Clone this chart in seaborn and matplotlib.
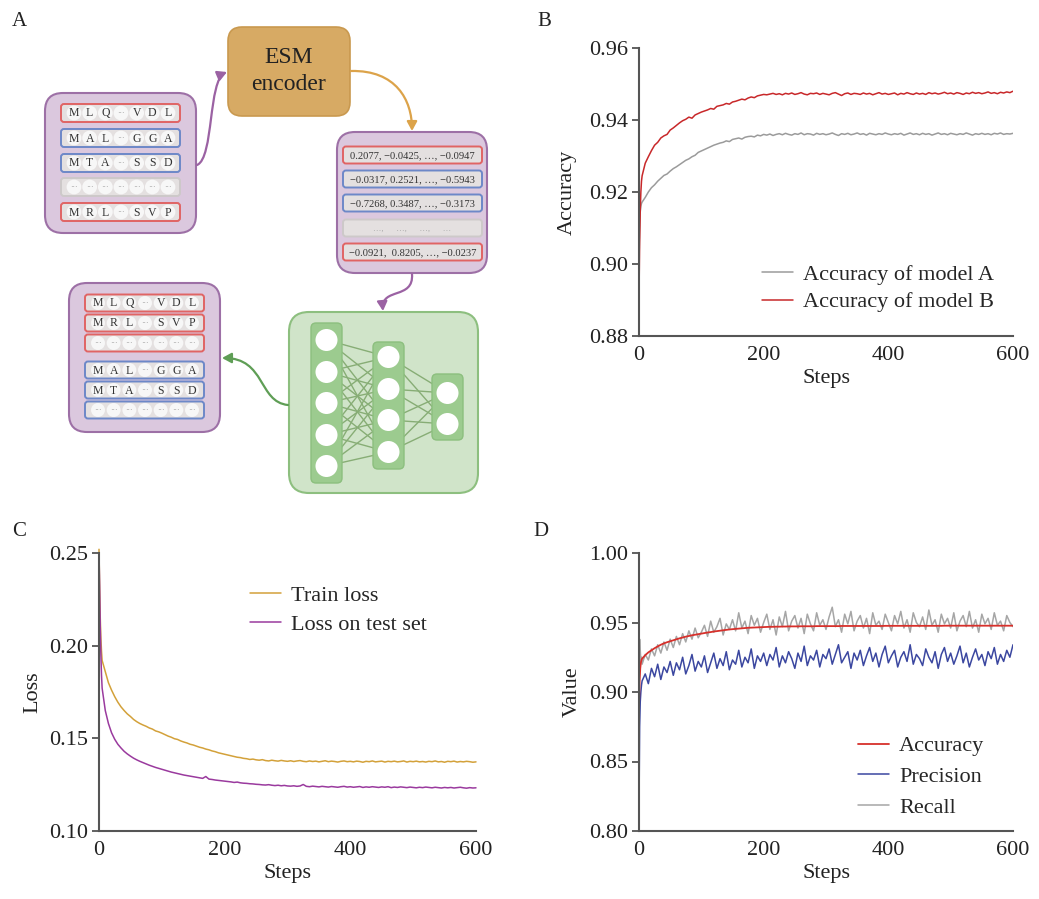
import numpy as np
import pandas as pd
import matplotlib
matplotlib.use("Agg")
import matplotlib.pyplot as plt
import seaborn as sns
from matplotlib.patches import FancyBboxPatch, Circle, FancyArrowPatch
from matplotlib.path import Path
from matplotlib.ticker import FormatStrFormatter

# ---------------- data ----------------
steps = [0, 1, 2, 3, 4] + list(range(5, 601, 5))

acc_model_a = [0.900, 0.910, 0.9145, 0.9160, 0.9168,
 0.9172, 0.9185, 0.9200, 0.9212, 0.9220, 0.9230, 0.9238, 0.9246, 0.9250, 0.9258,
 0.9265, 0.9270, 0.9276, 0.9282, 0.9288, 0.9292, 0.9298, 0.9302, 0.9310, 0.9314,
 0.9318, 0.9322, 0.9326, 0.9330, 0.9333, 0.9336, 0.9338, 0.9342, 0.9340, 0.9346,
 0.9348, 0.9350, 0.9347, 0.9352, 0.9354, 0.9355, 0.9353, 0.9358, 0.9356, 0.9360,
 0.9358, 0.9361, 0.9357, 0.9360, 0.9362, 0.9359, 0.9363, 0.9360, 0.9358, 0.9362,
 0.9360, 0.9364, 0.9359, 0.9362, 0.9361, 0.9358, 0.9363, 0.9360, 0.9362, 0.9359,
 0.9361, 0.9364, 0.9360, 0.9357, 0.9362, 0.9360, 0.9363, 0.9359, 0.9361, 0.9364,
 0.9360, 0.9362, 0.9358, 0.9363, 0.9361, 0.9359, 0.9362, 0.9360, 0.9364, 0.9361,
 0.9359, 0.9362, 0.9360, 0.9363, 0.9358, 0.9361, 0.9364, 0.9360, 0.9362, 0.9359,
 0.9363, 0.9360, 0.9362, 0.9358, 0.9361, 0.9364, 0.9360, 0.9362, 0.9359, 0.9363,
 0.9361, 0.9359, 0.9362, 0.9360, 0.9364, 0.9361, 0.9358, 0.9362, 0.9360, 0.9363,
 0.9360, 0.9362, 0.9359, 0.9363, 0.9361, 0.9364, 0.9360, 0.9362, 0.9361, 0.9363]

acc_model_b = [0.891, 0.906, 0.915, 0.920, 0.923,
 0.9245, 0.9280, 0.9298, 0.9315, 0.9330, 0.9338, 0.9350, 0.9356, 0.9360, 0.9372,
 0.9378, 0.9385, 0.9392, 0.9398, 0.9402, 0.9408, 0.9405, 0.9414, 0.9418, 0.9422,
 0.9425, 0.9428, 0.9432, 0.9430, 0.9438, 0.9440, 0.9442, 0.9446, 0.9444, 0.9450,
 0.9452, 0.9455, 0.9458, 0.9456, 0.9461, 0.9464, 0.9462, 0.9467, 0.9469, 0.9471,
 0.9470, 0.9472, 0.9474, 0.9471, 0.9473, 0.9470, 0.9474, 0.9472, 0.9475, 0.9471,
 0.9473, 0.9476, 0.9472, 0.9470, 0.9474, 0.9473, 0.9475, 0.9471, 0.9474, 0.9472,
 0.9470, 0.9474, 0.9476, 0.9472, 0.9468, 0.9473, 0.9475, 0.9471, 0.9474, 0.9473,
 0.9471, 0.9475, 0.9472, 0.9474, 0.9470, 0.9473, 0.9476, 0.9472, 0.9474, 0.9471,
 0.9473, 0.9475, 0.9470, 0.9474, 0.9472, 0.9476, 0.9473, 0.9471, 0.9475, 0.9472,
 0.9474, 0.9471, 0.9476, 0.9473, 0.9475, 0.9472, 0.9474, 0.9477, 0.9473, 0.9475,
 0.9472, 0.9476, 0.9474, 0.9471, 0.9475, 0.9473, 0.9477, 0.9474, 0.9476, 0.9473,
 0.9475, 0.9478, 0.9474, 0.9476, 0.9473, 0.9477, 0.9475, 0.9478, 0.9476, 0.9480]

train_loss = [0.252, 0.232, 0.215, 0.204, 0.197,
 0.192, 0.186, 0.180, 0.176, 0.1725, 0.1695, 0.1670, 0.1650, 0.1632, 0.1618,
 0.1602, 0.1590, 0.1580, 0.1572, 0.1565, 0.1556, 0.1550, 0.1540, 0.1535, 0.1528,
 0.1520, 0.1512, 0.1506, 0.1498, 0.1494, 0.1486, 0.1480, 0.1475, 0.1468, 0.1464,
 0.1458, 0.1452, 0.1448, 0.1442, 0.1438, 0.1432, 0.1428, 0.1422, 0.1418, 0.1414,
 0.1410, 0.1406, 0.1402, 0.1398, 0.1396, 0.1392, 0.1390, 0.1386, 0.1388, 0.1384,
 0.1382, 0.1385, 0.1380, 0.1378, 0.1382, 0.1379, 0.1377, 0.1381, 0.1378, 0.1376,
 0.1379, 0.1375, 0.1378, 0.1380, 0.1376, 0.1374, 0.1378, 0.1375, 0.1377, 0.1373,
 0.1376, 0.1379, 0.1374, 0.1377, 0.1375, 0.1372, 0.1376, 0.1378, 0.1374, 0.1376,
 0.1373, 0.1377, 0.1375, 0.1371, 0.1376, 0.1374, 0.1378, 0.1373, 0.1375, 0.1377,
 0.1372, 0.1376, 0.1374, 0.1377, 0.1373, 0.1375, 0.1378, 0.1372, 0.1376, 0.1374,
 0.1377, 0.1373, 0.1375, 0.1372, 0.1376, 0.1374, 0.1378, 0.1373, 0.1375, 0.1371,
 0.1376, 0.1374, 0.1377, 0.1372, 0.1375, 0.1373, 0.1376, 0.1374, 0.1371, 0.1373]

test_loss = [0.250, 0.232, 0.210, 0.195, 0.184,
 0.177, 0.165, 0.158, 0.153, 0.1495, 0.1468, 0.1448, 0.1430, 0.1416, 0.1404,
 0.1393, 0.1384, 0.1376, 0.1369, 0.1362, 0.1355, 0.1349, 0.1343, 0.1338, 0.1333,
 0.1328, 0.1323, 0.1318, 0.1314, 0.1310, 0.1306, 0.1302, 0.1299, 0.1296, 0.1293,
 0.1290, 0.1287, 0.1284, 0.1294, 0.1280, 0.1278, 0.1275, 0.1273, 0.1271, 0.1269,
 0.1267, 0.1265, 0.1262, 0.1264, 0.1260, 0.1258, 0.1257, 0.1255, 0.1254, 0.1252,
 0.1251, 0.1249, 0.1248, 0.1250, 0.1247, 0.1245, 0.1247, 0.1244, 0.1246, 0.1243,
 0.1242, 0.1244, 0.1241, 0.1243, 0.1251, 0.1241, 0.1239, 0.1242, 0.1240, 0.1238,
 0.1241, 0.1239, 0.1237, 0.1240, 0.1238, 0.1236, 0.1239, 0.1241, 0.1237, 0.1239,
 0.1236, 0.1238, 0.1240, 0.1235, 0.1238, 0.1236, 0.1239, 0.1237, 0.1235, 0.1238,
 0.1236, 0.1239, 0.1234, 0.1237, 0.1235, 0.1238, 0.1236, 0.1234, 0.1237, 0.1235,
 0.1233, 0.1236, 0.1234, 0.1237, 0.1235, 0.1233, 0.1236, 0.1234, 0.1232, 0.1235,
 0.1233, 0.1235, 0.1232, 0.1234, 0.1236, 0.1233, 0.1231, 0.1234, 0.1232, 0.1233]

accuracy_d = [0.890, 0.908, 0.917, 0.921, 0.923,
 0.9240, 0.9265, 0.9285, 0.9300, 0.9315, 0.9328, 0.9340, 0.9350, 0.9358, 0.9365,
 0.9372, 0.9379, 0.9386, 0.9392, 0.9398, 0.9403, 0.9408, 0.9412, 0.9416, 0.9420,
 0.9424, 0.9428, 0.9431, 0.9435, 0.9438, 0.9441, 0.9444, 0.9447, 0.9450, 0.9452,
 0.9454, 0.9456, 0.9458, 0.9460, 0.9462, 0.9463, 0.9464, 0.9465, 0.9466, 0.9467,
 0.9468, 0.9469, 0.9469, 0.9470, 0.9470, 0.9471, 0.9471, 0.9472, 0.9472, 0.9472,
 0.9472, 0.9473, 0.9473, 0.9473, 0.9473, 0.9473, 0.9474, 0.9474, 0.9474, 0.9474,
 0.9474, 0.9474, 0.9474, 0.9474, 0.9475, 0.9475, 0.9475, 0.9475, 0.9475, 0.9475,
 0.9475, 0.9475, 0.9475, 0.9475, 0.9475, 0.9475, 0.9475, 0.9475, 0.9476, 0.9476,
 0.9476, 0.9476, 0.9476, 0.9476, 0.9476, 0.9476, 0.9476, 0.9476, 0.9476, 0.9476,
 0.9476, 0.9476, 0.9476, 0.9476, 0.9476, 0.9476, 0.9476, 0.9477, 0.9477, 0.9477,
 0.9477, 0.9477, 0.9477, 0.9477, 0.9477, 0.9477, 0.9477, 0.9477, 0.9477, 0.9477,
 0.9477, 0.9477, 0.9477, 0.9477, 0.9477, 0.9477, 0.9477, 0.9477, 0.9477, 0.9477]

precision_d = [0.815, 0.875, 0.893, 0.900, 0.905,
 0.908, 0.913, 0.906, 0.917, 0.911, 0.920, 0.909, 0.918, 0.914, 0.922,
 0.912, 0.921, 0.916, 0.925, 0.913, 0.919, 0.927, 0.915, 0.922, 0.918,
 0.926, 0.914, 0.921, 0.928, 0.917, 0.924, 0.919, 0.929, 0.916, 0.923,
 0.920, 0.930, 0.918, 0.925, 0.921, 0.931, 0.917, 0.926, 0.922, 0.928,
 0.919, 0.927, 0.923, 0.932, 0.918, 0.926, 0.921, 0.929, 0.924, 0.917,
 0.928, 0.922, 0.933, 0.919, 0.926, 0.923, 0.930, 0.918, 0.927, 0.924,
 0.931, 0.920, 0.927, 0.934, 0.921, 0.925, 0.929, 0.917, 0.928, 0.923,
 0.930, 0.919, 0.926, 0.932, 0.922, 0.928, 0.918, 0.927, 0.933, 0.921,
 0.926, 0.930, 0.918, 0.925, 0.929, 0.922, 0.934, 0.920, 0.927, 0.924,
 0.919, 0.931, 0.925, 0.921, 0.929, 0.917, 0.927, 0.932, 0.922, 0.928,
 0.920, 0.926, 0.933, 0.921, 0.928, 0.918, 0.925, 0.931, 0.923, 0.927,
 0.919, 0.929, 0.924, 0.932, 0.920, 0.927, 0.922, 0.930, 0.925, 0.934]

recall_d = [0.925, 0.938, 0.930, 0.922, 0.925,
 0.920, 0.927, 0.923, 0.931, 0.926, 0.934, 0.928, 0.936, 0.930, 0.938,
 0.932, 0.940, 0.934, 0.942, 0.936, 0.944, 0.938, 0.946, 0.939, 0.943,
 0.948, 0.940, 0.951, 0.943, 0.947, 0.953, 0.941, 0.949, 0.945, 0.952,
 0.944, 0.957, 0.946, 0.951, 0.942, 0.955, 0.948, 0.953, 0.943, 0.950,
 0.956, 0.945, 0.952, 0.941, 0.954, 0.947, 0.958, 0.944, 0.951, 0.955,
 0.946, 0.953, 0.942, 0.956, 0.949, 0.944, 0.957, 0.948, 0.952, 0.945,
 0.954, 0.961, 0.947, 0.952, 0.943, 0.956, 0.949, 0.958, 0.944, 0.951,
 0.955, 0.946, 0.953, 0.942, 0.957, 0.948, 0.951, 0.945, 0.956, 0.950,
 0.944, 0.955, 0.949, 0.958, 0.946, 0.952, 0.943, 0.957, 0.950, 0.947,
 0.954, 0.945, 0.959, 0.948, 0.952, 0.943, 0.956, 0.949, 0.953, 0.946,
 0.957, 0.944, 0.951, 0.955, 0.947, 0.958, 0.946, 0.952, 0.943, 0.956,
 0.949, 0.953, 0.945, 0.957, 0.948, 0.951, 0.944, 0.955, 0.950, 0.947]

x_ticks = [0, 200, 400, 600]

seqs_in = [["M", "L", "Q", "···", "V", "D", "L"],
           ["M", "A", "L", "···", "G", "G", "A"],
           ["M", "T", "A", "···", "S", "S", "D"],
           ["···"] * 7,
           ["M", "R", "L", "···", "S", "V", "P"]]
seq_in_edges = ["red", "blue", "blue", "gray", "red"]
emb_rows = ["0.2077, \u22120.0425, \u2026, \u22120.0947",
            "\u22120.0317, 0.2521, \u2026, \u22120.5943",
            "\u22120.7268, 0.3487, \u2026, \u22120.3173",
            "\u2026,      \u2026,      \u2026,      \u2026",
            "\u22120.0921,  0.8205, \u2026, \u22120.0237"]
seqs_out = [["M", "L", "Q", "···", "V", "D", "L"],
            ["M", "R", "L", "···", "S", "V", "P"],
            ["···"] * 7,
            ["M", "A", "L", "···", "G", "G", "A"],
            ["M", "T", "A", "···", "S", "S", "D"],
            ["···"] * 7]
seq_out_edges = ["red", "red", "red", "blue", "blue", "blue"]
layer_sizes = [5, 4, 2]

# ---------------- style ----------------
sns.set_theme(style="ticks")
plt.rcParams['font.family'] = ['Liberation Serif', 'DejaVu Serif']
plt.rcParams['axes.unicode_minus'] = True

W, H = 1039, 899
fig = plt.figure(figsize=(W / 100, H / 100), dpi=100)

EDGE = {"red": "#e06464", "blue": "#6d88c8", "gray": "#cdc9c9"}
ROWFILL = "#e4e0e0"
PURPLE_FILL = "#dbc8de"
PURPLE_EDGE = "#9d70a6"

# ---------------- panel A (diagram) ----------------
ax0 = fig.add_axes([0, 0, 1, 1])
ax0.set_xlim(0, W)
ax0.set_ylim(H, 0)
ax0.axis("off")


def rbox(x0, y0, x1, y1, fc, ec, r, lw=1.5, z=1):
    p = FancyBboxPatch((x0, y0), x1 - x0, y1 - y0,
                       boxstyle=f"round,pad=0,rounding_size={r}",
                       fc=fc, ec=ec, lw=lw, zorder=z)
    ax0.add_patch(p)


def seq_row(x0, x1, yc, h, edge, tokens):
    rbox(x0, yc - h / 2, x1, yc + h / 2, ROWFILL, EDGE[edge], 3, lw=1.4, z=2)
    n = len(tokens)
    cx0, cx1 = x0 + 13, x1 - 12
    for i, t in enumerate(tokens):
        cx = cx0 + (cx1 - cx0) * i / (n - 1)
        ax0.add_patch(Circle((cx, yc), h * 0.41, fc="#f7f7f7", ec="none", zorder=3))
        if t == "···":
            ax0.text(cx, yc, t, ha="center", va="center", fontsize=5.5,
                     color="#999999", zorder=4)
        else:
            ax0.text(cx, yc + 0.5, t, ha="center", va="center", fontsize=8.5,
                     color="#333333", zorder=4)


# ESM encoder
rbox(228, 27, 350, 116, "#d7aa64", "#c9994f", 14, lw=1.2)
ax0.text(289, 71, "ESM\nencoder", ha="center", va="center", fontsize=17,
         linespacing=1.35, color="#222222", zorder=3)

# input sequences box
rbox(45, 93, 196, 233, PURPLE_FILL, PURPLE_EDGE, 18)
for yc, edge, toks in zip([113, 138, 163, 187, 212], seq_in_edges, seqs_in):
    seq_row(61, 180, yc, 18, edge, toks)

# embedding box
rbox(337, 132, 487, 273, PURPLE_FILL, PURPLE_EDGE, 18)
for yc, edge, txt in zip([155, 179, 203, 228, 252], seq_in_edges, emb_rows):
    rbox(343, yc - 8.5, 482, yc + 8.5, ROWFILL, EDGE[edge], 3, lw=1.4, z=2)
    ax0.text(412.5, yc + 0.5, txt, ha="center", va="center",
             fontsize=7.6 if edge != "gray" else 6,
             color="#333333" if edge != "gray" else "#aaaaaa", zorder=3)

# neural network box
rbox(289, 312, 478, 493, "#d0e4c9", "#8dbf7f", 20)
col_x = [(311, 342), (373, 404), (432, 463)]
col_y = [(323, 483), (342, 469), (374, 440)]
node_y = [[340, 372, 403, 435, 466], [357, 389, 420, 452], [393, 424]]
for li in range(2):
    xa = (col_x[li][0] + col_x[li][1]) / 2
    xb = (col_x[li + 1][0] + col_x[li + 1][1]) / 2
    for ya in node_y[li]:
        for yb in node_y[li + 1]:
            ax0.plot([xa, xb], [ya, yb], color="#87ad75", lw=1.0, zorder=2)
for (xa, xb), (ya, yb), ys in zip(col_x, col_y, node_y):
    rbox(xa, ya, xb, yb, "#9ccb8f", "#8cbf7e", 5, lw=1.0, z=3)
    for y in ys:
        ax0.add_patch(Circle(((xa + xb) / 2, y), 11, fc="white", ec="none", zorder=4))

# output (classified) box
rbox(69, 283, 220, 432, PURPLE_FILL, PURPLE_EDGE, 18)
for yc, edge, toks in zip([303, 323, 343, 370, 390, 410], seq_out_edges, seqs_out):
    seq_row(85, 204, yc, 17, edge, toks)


def curved_arrow(pts, color):
    path = Path(pts, [Path.MOVETO, Path.CURVE4, Path.CURVE4, Path.CURVE4])
    a = FancyArrowPatch(path=path, arrowstyle="-|>,head_length=0.55,head_width=0.3",
                        mutation_scale=10, color=color, lw=1.6, zorder=5)
    ax0.add_patch(a)


curved_arrow([(197, 165), (214, 158), (208, 80), (227, 72)], "#9b62a3")
curved_arrow([(351, 71), (396, 70), (412, 100), (412, 131)], "#dca34a")
curved_arrow([(412, 274), (414, 300), (381, 287), (383, 311)], "#9b62a3")
curved_arrow([(288, 405), (258, 402), (266, 358), (222, 358)], "#5f9e56")

# ---------------- line panels ----------------
SP = "#555555"


def style_ax(ax, ylim, yticks, ylabel, labelpad=5):
    ax.set_xlim(0, 600)
    ax.set_ylim(*ylim)
    ax.set_xticks(x_ticks)
    ax.set_yticks(yticks)
    ax.yaxis.set_major_formatter(FormatStrFormatter("%.2f"))
    for s in ["top", "right"]:
        ax.spines[s].set_visible(False)
    for s in ["left", "bottom"]:
        ax.spines[s].set_color(SP)
        ax.spines[s].set_linewidth(1.5)
    ax.tick_params(axis="y", direction="out", length=5, width=1.3, color=SP,
                   labelsize=16, pad=3, labelcolor="#222222")
    ax.tick_params(axis="x", length=0, labelsize=16, pad=7, labelcolor="#222222")
    ax.set_xlabel("Steps", fontsize=16, labelpad=3, color="#222222")
    ax.set_ylabel(ylabel, fontsize=16, labelpad=labelpad, color="#222222")
    ax.grid(False)


def add_legend(ax, order, x, y, spacing):
    h, l = ax.get_legend_handles_labels()
    d = dict(zip(l, h))
    ax.legend([d[k] for k in order], order, loc="upper left", bbox_to_anchor=(x, y),
              frameon=False, fontsize=16, handlelength=1.4, handletextpad=0.45,
              labelspacing=spacing, borderpad=0, borderaxespad=0)


# B
axB = fig.add_axes([639 / W, 1 - 336 / H, 374 / W, 288 / H])
dfB = pd.DataFrame({"step": steps, "a": acc_model_a, "b": acc_model_b})
sns.lineplot(data=dfB, x="step", y="a", ax=axB, color="#9b9b9b", lw=1.1,
             label="Accuracy of model A", errorbar=None)
sns.lineplot(data=dfB, x="step", y="b", ax=axB, color="#c8282a", lw=1.1,
             label="Accuracy of model B", errorbar=None)
style_ax(axB, (0.88, 0.96), [0.88, 0.90, 0.92, 0.94, 0.96], "Accuracy", labelpad=9)
add_legend(axB, ["Accuracy of model A", "Accuracy of model B"], 0.329, 0.248, 0.3)

# C
axC = fig.add_axes([99 / W, 1 - 831 / H, 377 / W, 278 / H])
dfC = pd.DataFrame({"step": steps, "train": train_loss, "test": test_loss})
sns.lineplot(data=dfC, x="step", y="train", ax=axC, color="#d3a13a", lw=1.1,
             label="Train loss", errorbar=None)
sns.lineplot(data=dfC, x="step", y="test", ax=axC, color="#9a3a9e", lw=1.1,
             label="Loss on test set", errorbar=None)
for ln in axC.get_lines():
    ln.set_clip_on(False)
style_ax(axC, (0.10, 0.25), [0.10, 0.15, 0.20, 0.25], "Loss")
add_legend(axC, ["Train loss", "Loss on test set"], 0.40, 0.885, 0.38)

# D
axD = fig.add_axes([639 / W, 1 - 831 / H, 374 / W, 278 / H])
dfD = pd.DataFrame({"step": steps, "acc": accuracy_d, "prec": precision_d,
                    "rec": recall_d})
sns.lineplot(data=dfD, x="step", y="prec", ax=axD, color="#3b47a0", lw=1.1,
             label="Precision", errorbar=None)
sns.lineplot(data=dfD, x="step", y="rec", ax=axD, color="#a6a6a6", lw=1.1,
             label="Recall", errorbar=None)
sns.lineplot(data=dfD, x="step", y="acc", ax=axD, color="#d7302b", lw=1.3,
             label="Accuracy", errorbar=None)
style_ax(axD, (0.80, 1.00), [0.80, 0.85, 0.90, 0.95, 1.00], "Value")
add_legend(axD, ["Accuracy", "Precision", "Recall"], 0.585, 0.342, 0.46)

# panel letters
for letter, (px, py) in {"A": (12, 22), "B": (537, 22), "C": (12, 531), "D": (533, 531)}.items():
    fig.text(px / W, 1 - py / H, letter, fontsize=15, ha="left", va="center",
             color="#222222")

fig.savefig("out.png", dpi=100)
